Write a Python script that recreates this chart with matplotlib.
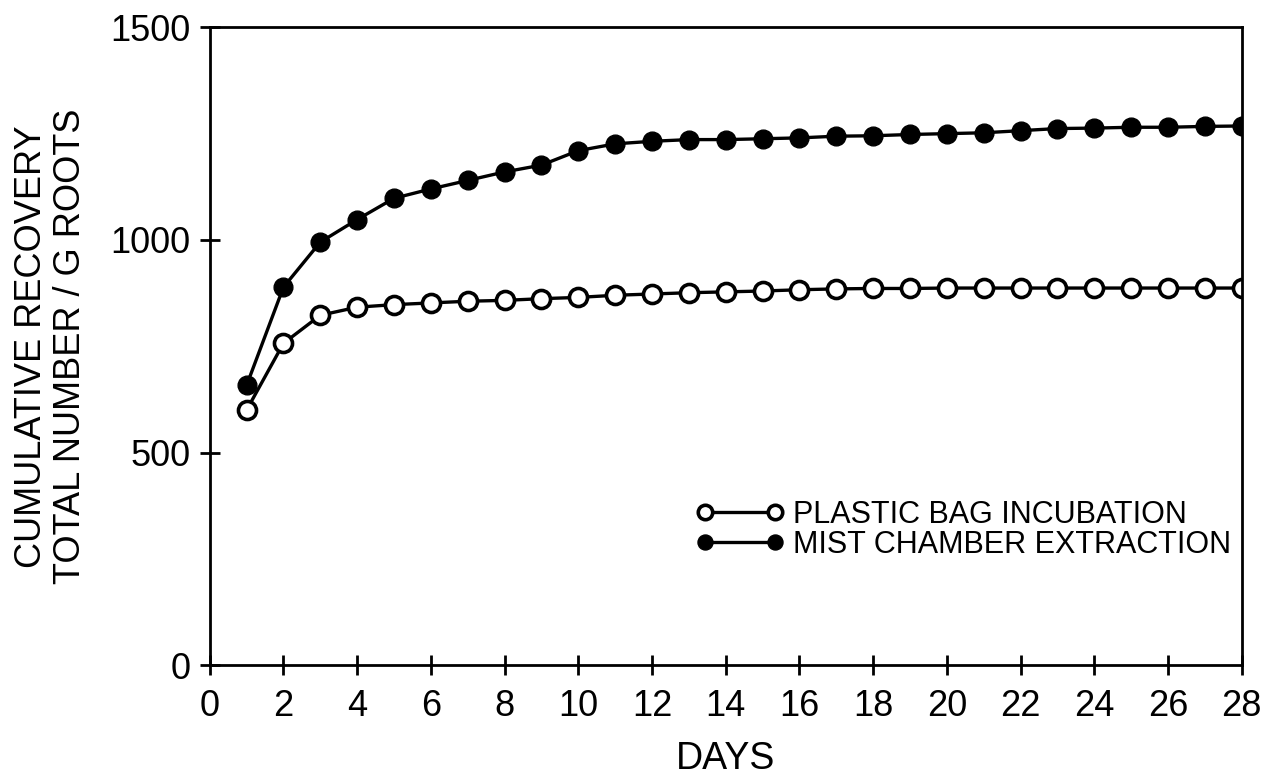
import matplotlib.pyplot as plt
from matplotlib.ticker import MultipleLocator

plt.rcParams['font.family'] = ['Liberation Sans', 'DejaVu Sans']

days = list(range(1, 29))
plastic_bag = [600, 757, 823, 842, 848, 852, 856, 858, 862, 865,
               870, 873, 876, 878, 880, 883, 885, 886, 886, 887,
               887, 887, 887, 887, 887, 887, 887, 887]
mist_chamber = [658, 889, 995, 1048, 1098, 1120, 1140, 1160, 1176, 1210,
                1226, 1232, 1236, 1236, 1238, 1240, 1244, 1245, 1248, 1250,
                1252, 1257, 1262, 1263, 1265, 1265, 1267, 1268]

fig = plt.figure(figsize=(12.71, 7.80), dpi=100)
ax = fig.add_axes([0.165, 0.147, 0.812, 0.818])

ax.plot(days, plastic_bag, '-o', color='black', lw=2.4, ms=13,
        mfc='white', mec='black', mew=2.6, label='PLASTIC BAG INCUBATION')
ax.plot(days, mist_chamber, '-o', color='black', lw=2.4, ms=13.5,
        mfc='black', mec='black', label='MIST CHAMBER EXTRACTION')

ax.set_xlim(0, 28)
ax.set_ylim(0, 1500)
ax.xaxis.set_major_locator(MultipleLocator(2))
ax.yaxis.set_major_locator(MultipleLocator(500))
ax.tick_params(direction='inout', length=14, width=2, labelsize=26)
ax.tick_params(axis='x', pad=10)
ax.tick_params(axis='y', pad=7)
for s in ax.spines.values():
    s.set_linewidth(2)

ax.set_xlabel('DAYS', fontsize=27, labelpad=12)
ax.set_ylabel('CUMULATIVE RECOVERY\nTOTAL NUMBER / G ROOTS', fontsize=26,
              labelpad=16, linespacing=1.15)

ax.legend(loc='lower right', bbox_to_anchor=(0.99, 0.165), frameon=False,
          numpoints=2, markerscale=0.8, handlelength=2.9, handletextpad=0.3,
          labelspacing=0.0, borderpad=0, borderaxespad=0, fontsize=22)

fig.savefig('out.png', dpi=100)
